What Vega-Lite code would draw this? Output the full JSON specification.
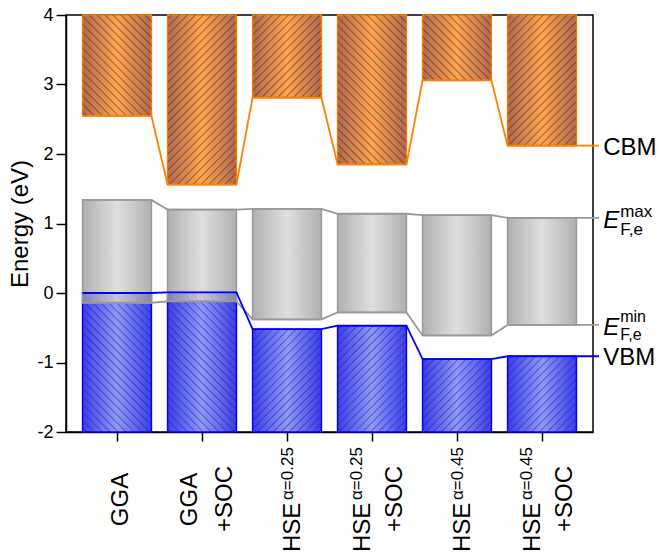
{
  "$schema": "https://vega.github.io/schema/vega-lite/v6.json",
  "width": 527,
  "height": 417,
  "autosize": "none",
  "padding": {"left": 66, "top": 15, "right": 65, "bottom": 124},
  "background": "white",
  "config": {"view": {"stroke": "black", "strokeWidth": 1.5}, "font": "Liberation Sans"},
  "params": [
    {"name": "hatch", "value": [
      {"offset": 0.0106, "color": "rgba(50,35,35,0)"}, {"offset": 0.0156, "color": "rgba(50,35,35,0.5)"}, {"offset": 0.0206, "color": "rgba(50,35,35,0)"},
      {"offset": 0.0419, "color": "rgba(50,35,35,0)"}, {"offset": 0.0469, "color": "rgba(50,35,35,0.5)"}, {"offset": 0.0519, "color": "rgba(50,35,35,0)"},
      {"offset": 0.0731, "color": "rgba(50,35,35,0)"}, {"offset": 0.0781, "color": "rgba(50,35,35,0.5)"}, {"offset": 0.0831, "color": "rgba(50,35,35,0)"},
      {"offset": 0.1044, "color": "rgba(50,35,35,0)"}, {"offset": 0.1094, "color": "rgba(50,35,35,0.5)"}, {"offset": 0.1144, "color": "rgba(50,35,35,0)"},
      {"offset": 0.1356, "color": "rgba(50,35,35,0)"}, {"offset": 0.1406, "color": "rgba(50,35,35,0.5)"}, {"offset": 0.1456, "color": "rgba(50,35,35,0)"},
      {"offset": 0.1669, "color": "rgba(50,35,35,0)"}, {"offset": 0.1719, "color": "rgba(50,35,35,0.5)"}, {"offset": 0.1769, "color": "rgba(50,35,35,0)"},
      {"offset": 0.1981, "color": "rgba(50,35,35,0)"}, {"offset": 0.2031, "color": "rgba(50,35,35,0.5)"}, {"offset": 0.2081, "color": "rgba(50,35,35,0)"},
      {"offset": 0.2294, "color": "rgba(50,35,35,0)"}, {"offset": 0.2344, "color": "rgba(50,35,35,0.5)"}, {"offset": 0.2394, "color": "rgba(50,35,35,0)"},
      {"offset": 0.2606, "color": "rgba(50,35,35,0)"}, {"offset": 0.2656, "color": "rgba(50,35,35,0.5)"}, {"offset": 0.2706, "color": "rgba(50,35,35,0)"},
      {"offset": 0.2919, "color": "rgba(50,35,35,0)"}, {"offset": 0.2969, "color": "rgba(50,35,35,0.5)"}, {"offset": 0.3019, "color": "rgba(50,35,35,0)"},
      {"offset": 0.3231, "color": "rgba(50,35,35,0)"}, {"offset": 0.3281, "color": "rgba(50,35,35,0.5)"}, {"offset": 0.3331, "color": "rgba(50,35,35,0)"},
      {"offset": 0.3544, "color": "rgba(50,35,35,0)"}, {"offset": 0.3594, "color": "rgba(50,35,35,0.5)"}, {"offset": 0.3644, "color": "rgba(50,35,35,0)"},
      {"offset": 0.3856, "color": "rgba(50,35,35,0)"}, {"offset": 0.3906, "color": "rgba(50,35,35,0.5)"}, {"offset": 0.3956, "color": "rgba(50,35,35,0)"},
      {"offset": 0.4169, "color": "rgba(50,35,35,0)"}, {"offset": 0.4219, "color": "rgba(50,35,35,0.5)"}, {"offset": 0.4269, "color": "rgba(50,35,35,0)"},
      {"offset": 0.4481, "color": "rgba(50,35,35,0)"}, {"offset": 0.4531, "color": "rgba(50,35,35,0.5)"}, {"offset": 0.4581, "color": "rgba(50,35,35,0)"},
      {"offset": 0.4794, "color": "rgba(50,35,35,0)"}, {"offset": 0.4844, "color": "rgba(50,35,35,0.5)"}, {"offset": 0.4894, "color": "rgba(50,35,35,0)"},
      {"offset": 0.5106, "color": "rgba(50,35,35,0)"}, {"offset": 0.5156, "color": "rgba(50,35,35,0.5)"}, {"offset": 0.5206, "color": "rgba(50,35,35,0)"},
      {"offset": 0.5419, "color": "rgba(50,35,35,0)"}, {"offset": 0.5469, "color": "rgba(50,35,35,0.5)"}, {"offset": 0.5519, "color": "rgba(50,35,35,0)"},
      {"offset": 0.5731, "color": "rgba(50,35,35,0)"}, {"offset": 0.5781, "color": "rgba(50,35,35,0.5)"}, {"offset": 0.5831, "color": "rgba(50,35,35,0)"},
      {"offset": 0.6044, "color": "rgba(50,35,35,0)"}, {"offset": 0.6094, "color": "rgba(50,35,35,0.5)"}, {"offset": 0.6144, "color": "rgba(50,35,35,0)"},
      {"offset": 0.6356, "color": "rgba(50,35,35,0)"}, {"offset": 0.6406, "color": "rgba(50,35,35,0.5)"}, {"offset": 0.6456, "color": "rgba(50,35,35,0)"},
      {"offset": 0.6669, "color": "rgba(50,35,35,0)"}, {"offset": 0.6719, "color": "rgba(50,35,35,0.5)"}, {"offset": 0.6769, "color": "rgba(50,35,35,0)"},
      {"offset": 0.6981, "color": "rgba(50,35,35,0)"}, {"offset": 0.7031, "color": "rgba(50,35,35,0.5)"}, {"offset": 0.7081, "color": "rgba(50,35,35,0)"},
      {"offset": 0.7294, "color": "rgba(50,35,35,0)"}, {"offset": 0.7344, "color": "rgba(50,35,35,0.5)"}, {"offset": 0.7394, "color": "rgba(50,35,35,0)"},
      {"offset": 0.7606, "color": "rgba(50,35,35,0)"}, {"offset": 0.7656, "color": "rgba(50,35,35,0.5)"}, {"offset": 0.7706, "color": "rgba(50,35,35,0)"},
      {"offset": 0.7919, "color": "rgba(50,35,35,0)"}, {"offset": 0.7969, "color": "rgba(50,35,35,0.5)"}, {"offset": 0.8019, "color": "rgba(50,35,35,0)"},
      {"offset": 0.8231, "color": "rgba(50,35,35,0)"}, {"offset": 0.8281, "color": "rgba(50,35,35,0.5)"}, {"offset": 0.8331, "color": "rgba(50,35,35,0)"},
      {"offset": 0.8544, "color": "rgba(50,35,35,0)"}, {"offset": 0.8594, "color": "rgba(50,35,35,0.5)"}, {"offset": 0.8644, "color": "rgba(50,35,35,0)"},
      {"offset": 0.8856, "color": "rgba(50,35,35,0)"}, {"offset": 0.8906, "color": "rgba(50,35,35,0.5)"}, {"offset": 0.8956, "color": "rgba(50,35,35,0)"},
      {"offset": 0.9169, "color": "rgba(50,35,35,0)"}, {"offset": 0.9219, "color": "rgba(50,35,35,0.5)"}, {"offset": 0.9269, "color": "rgba(50,35,35,0)"},
      {"offset": 0.9481, "color": "rgba(50,35,35,0)"}, {"offset": 0.9531, "color": "rgba(50,35,35,0.5)"}, {"offset": 0.9581, "color": "rgba(50,35,35,0)"},
      {"offset": 0.9794, "color": "rgba(50,35,35,0)"}, {"offset": 0.9844, "color": "rgba(50,35,35,0.5)"}, {"offset": 0.9894, "color": "rgba(50,35,35,0)"}
    ]}
  ],
  "data": {"values": [
    {"method": "GGA", "pos": 1, "base": "GGA", "sup": "", "soc": "", "CBM": 2.55, "Emax": 1.34, "Emin": -0.14, "VBM": 0.0},
    {"method": "GGA+SOC", "pos": 2, "base": "GGA", "sup": "", "soc": "+SOC", "CBM": 1.56, "Emax": 1.20, "Emin": -0.12, "VBM": 0.01},
    {"method": "HSE a=0.25", "pos": 3, "base": "HSE", "sup": "α=0.25", "soc": "", "CBM": 2.81, "Emax": 1.21, "Emin": -0.38, "VBM": -0.52},
    {"method": "HSE a=0.25+SOC", "pos": 4, "base": "HSE", "sup": "α=0.25", "soc": "+SOC", "CBM": 1.85, "Emax": 1.14, "Emin": -0.28, "VBM": -0.47},
    {"method": "HSE a=0.45", "pos": 5, "base": "HSE", "sup": "α=0.45", "soc": "", "CBM": 3.06, "Emax": 1.12, "Emin": -0.61, "VBM": -0.95},
    {"method": "HSE a=0.45+SOC", "pos": 6, "base": "HSE", "sup": "α=0.45", "soc": "+SOC", "CBM": 2.12, "Emax": 1.08, "Emin": -0.46, "VBM": -0.91}
  ]},
  "transform": [
    {"calculate": "datum.pos - 0.405", "as": "xl"},
    {"calculate": "datum.pos + 0.405", "as": "xr"}
  ],
  "layer": [
    {
      "mark": {"type": "rect", "stroke": "#0000ff", "strokeWidth": 1.5,
        "fill": {"gradient": "linear", "x1": 0, "y1": 0, "x2": 1, "y2": 0,
          "stops": [{"offset": 0, "color": "#3c3cf2"}, {"offset": 0.5, "color": "#8c98ff"}, {"offset": 1, "color": "#3c3cf2"}]}},
      "encoding": {
        "x": {"field": "xl", "type": "quantitative", "scale": {"domain": [0.4, 6.6], "nice": false, "zero": false},
          "axis": {"values": [1, 2, 3, 4, 5, 6], "labels": false, "title": null, "tickSize": 9, "tickWidth": 1.5, "tickColor": "black", "domainColor": "black", "domainWidth": 1.5, "grid": false}},
        "x2": {"field": "xr"},
        "y": {"field": "VBM", "type": "quantitative", "scale": {"domain": [-2, 4], "nice": false, "zero": false},
          "axis": {"values": [-2, -1.5, -1, -0.5, 0, 0.5, 1, 1.5, 2, 2.5, 3, 3.5, 4],
            "labelExpr": "datum.value % 1 === 0 ? '' + datum.value : ''",
            "labelOverlap": false,
            "tickSize": {"condition": {"test": "datum.value % 1 !== 0", "value": 4}, "value": 10},
            "labelFontSize": 18, "labelColor": "black", "labelPadding": 3, "labelFont": "Liberation Sans",
            "title": "Energy (eV)", "titleFontSize": 24, "titleFontWeight": "normal", "titleColor": "black", "titleFont": "Liberation Sans", "titlePadding": 4,
            "grid": false, "domainColor": "black", "domainWidth": 1.5, "tickColor": "black", "tickWidth": 1.5}},
        "y2": {"datum": -2}
      }
    },
    {
      "mark": {"type": "rect", "strokeWidth": 0,
        "fill": {"expr": "datum.pos <= 2 ? {gradient: 'linear', x1: 0, y1: 1, x2: 17526.4/(4740.3 + pow(scale('y', -2) - scale('y', datum.VBM), 2)), y2: 1 - 254.56*(scale('y', -2) - scale('y', datum.VBM))/(4740.3 + pow(scale('y', -2) - scale('y', datum.VBM), 2)), stops: hatch} : {gradient: 'linear', x1: 0, y1: 0, x2: 17526.4/(4740.3 + pow(scale('y', -2) - scale('y', datum.VBM), 2)), y2: 254.56*(scale('y', -2) - scale('y', datum.VBM))/(4740.3 + pow(scale('y', -2) - scale('y', datum.VBM), 2)), stops: hatch}"}},
      "encoding": {
        "x": {"field": "xl", "type": "quantitative"},
        "x2": {"field": "xr"},
        "y": {"field": "VBM", "type": "quantitative"},
        "y2": {"datum": -2}
      }
    },
    {
      "mark": {"type": "rect", "stroke": "#999999", "strokeWidth": 1.5, "fillOpacity": 0.78,
        "fill": {"gradient": "linear", "x1": 0, "y1": 0, "x2": 1, "y2": 0,
          "stops": [{"offset": 0, "color": "#9a9a9a"}, {"offset": 0.5, "color": "#d6d6d6"}, {"offset": 1, "color": "#9a9a9a"}]}},
      "encoding": {
        "x": {"field": "xl", "type": "quantitative"},
        "x2": {"field": "xr"},
        "y": {"field": "Emin", "type": "quantitative"},
        "y2": {"field": "Emax"}
      }
    },
    {
      "mark": {"type": "rect", "stroke": "#ff8000", "strokeWidth": 1.5,
        "fill": {"gradient": "linear", "x1": 0, "y1": 0, "x2": 1, "y2": 0,
          "stops": [{"offset": 0, "color": "#b0674f"}, {"offset": 0.5, "color": "#ffa54c"}, {"offset": 1, "color": "#b0674f"}]}},
      "encoding": {
        "x": {"field": "xl", "type": "quantitative"},
        "x2": {"field": "xr"},
        "y": {"field": "CBM", "type": "quantitative"},
        "y2": {"datum": 4}
      }
    },
    {
      "mark": {"type": "rect", "strokeWidth": 0,
        "fill": {"expr": "(datum.pos == 2 || datum.pos == 3 || datum.pos == 6) ? {gradient: 'linear', x1: 0, y1: 0, x2: 17526.4/(4740.3 + pow(scale('y', datum.CBM) - scale('y', 4), 2)), y2: 254.56*(scale('y', datum.CBM) - scale('y', 4))/(4740.3 + pow(scale('y', datum.CBM) - scale('y', 4), 2)), stops: hatch} : {gradient: 'linear', x1: 0, y1: 1, x2: 17526.4/(4740.3 + pow(scale('y', datum.CBM) - scale('y', 4), 2)), y2: 1 - 254.56*(scale('y', datum.CBM) - scale('y', 4))/(4740.3 + pow(scale('y', datum.CBM) - scale('y', 4), 2)), stops: hatch}"}},
      "encoding": {
        "x": {"field": "xl", "type": "quantitative"},
        "x2": {"field": "xr"},
        "y": {"field": "CBM", "type": "quantitative"},
        "y2": {"datum": 4}
      }
    },
    {
      "transform": [
        {"fold": ["CBM", "Emax", "Emin", "VBM"], "as": ["key", "value"]},
        {"calculate": "datum.pos == 6 ? [datum.xl, datum.xr, 6.67] : [datum.xl, datum.xr]", "as": "xs"},
        {"flatten": ["xs"]}
      ],
      "mark": {"type": "line", "strokeWidth": 1.8},
      "encoding": {
        "x": {"field": "xs", "type": "quantitative"},
        "y": {"field": "value", "type": "quantitative"},
        "color": {"field": "key", "type": "nominal", "legend": null,
          "scale": {"domain": ["CBM", "Emax", "Emin", "VBM"], "range": ["#ff8000", "#999999", "#999999", "#0000ff"]}},
        "order": {"field": "xs", "type": "quantitative"}
      }
    },
    {
      "transform": [{"filter": "datum.pos == 1"}],
      "mark": {"type": "text", "angle": 270, "align": "center", "baseline": "alphabetic", "dx": -67.5, "dy": 11, "fontSize": 24, "font": "Liberation Sans", "color": "black"},
      "encoding": {"x": {"field": "pos", "type": "quantitative"}, "y": {"datum": -2}, "text": {"field": "base"}}
    },
    {
      "transform": [{"filter": "datum.pos == 2"}],
      "mark": {"type": "text", "angle": 270, "align": "center", "baseline": "alphabetic", "dx": -67.5, "dy": -5, "fontSize": 24, "font": "Liberation Sans", "color": "black"},
      "encoding": {"x": {"field": "pos", "type": "quantitative"}, "y": {"datum": -2}, "text": {"field": "base"}}
    },
    {
      "transform": [{"filter": "datum.soc != ''"}],
      "mark": {"type": "text", "angle": 270, "align": "center", "baseline": "alphabetic", "dx": -67, "dy": 29.5, "fontSize": 24, "font": "Liberation Sans", "color": "black"},
      "encoding": {"x": {"field": "pos", "type": "quantitative"}, "y": {"datum": -2}, "text": {"field": "soc"}}
    },
    {
      "transform": [{"filter": "datum.pos == 3 || datum.pos == 5"}],
      "mark": {"type": "text", "angle": 270, "align": "left", "baseline": "alphabetic", "dx": -120, "dy": 13, "fontSize": 24, "font": "Liberation Sans", "color": "black"},
      "encoding": {"x": {"field": "pos", "type": "quantitative"}, "y": {"datum": -2}, "text": {"field": "base"}}
    },
    {
      "transform": [{"filter": "datum.pos == 3 || datum.pos == 5"}],
      "mark": {"type": "text", "angle": 270, "align": "left", "baseline": "alphabetic", "dx": -68, "dy": 5.5, "fontSize": 17, "font": "Liberation Sans", "color": "black"},
      "encoding": {"x": {"field": "pos", "type": "quantitative"}, "y": {"datum": -2}, "text": {"field": "sup"}}
    },
    {
      "transform": [{"filter": "datum.pos == 4 || datum.pos == 6"}],
      "mark": {"type": "text", "angle": 270, "align": "left", "baseline": "alphabetic", "dx": -120, "dy": -2.5, "fontSize": 24, "font": "Liberation Sans", "color": "black"},
      "encoding": {"x": {"field": "pos", "type": "quantitative"}, "y": {"datum": -2}, "text": {"field": "base"}}
    },
    {
      "transform": [{"filter": "datum.pos == 4 || datum.pos == 6"}],
      "mark": {"type": "text", "angle": 270, "align": "left", "baseline": "alphabetic", "dx": -68, "dy": -10, "fontSize": 17, "font": "Liberation Sans", "color": "black"},
      "encoding": {"x": {"field": "pos", "type": "quantitative"}, "y": {"datum": -2}, "text": {"field": "sup"}}
    },
    {
      "transform": [{"filter": "datum.pos == 6"}],
      "mark": {"type": "text", "text": "CBM", "align": "left", "baseline": "alphabetic", "dy": 9, "fontSize": 24, "font": "Liberation Sans", "color": "black"},
      "encoding": {"x": {"datum": 6.72}, "y": {"field": "CBM", "type": "quantitative"}}
    },
    {
      "transform": [{"filter": "datum.pos == 6"}],
      "mark": {"type": "text", "text": "VBM", "align": "left", "baseline": "alphabetic", "dy": 9, "fontSize": 24, "font": "Liberation Sans", "color": "black"},
      "encoding": {"x": {"datum": 6.72}, "y": {"field": "VBM", "type": "quantitative"}}
    },
    {
      "transform": [{"filter": "datum.pos == 6"}, {"fold": ["Emax", "Emin"], "as": ["key", "value"]}],
      "mark": {"type": "text", "text": "E", "fontStyle": "italic", "align": "left", "baseline": "alphabetic", "dy": 10.5, "fontSize": 24, "font": "Liberation Sans", "color": "black"},
      "encoding": {"x": {"datum": 6.72}, "y": {"field": "value", "type": "quantitative"}}
    },
    {
      "transform": [{"filter": "datum.pos == 6"}],
      "mark": {"type": "text", "text": "F,e", "align": "left", "baseline": "alphabetic", "dx": 17, "dy": 17, "fontSize": 17, "font": "Liberation Sans", "color": "black"},
      "encoding": {"x": {"datum": 6.72}, "y": {"field": "Emax", "type": "quantitative"}}
    },
    {
      "transform": [{"filter": "datum.pos == 6"}],
      "mark": {"type": "text", "text": "F,e", "align": "left", "baseline": "alphabetic", "dx": 17, "dy": 15, "fontSize": 16, "font": "Liberation Sans", "color": "black"},
      "encoding": {"x": {"datum": 6.72}, "y": {"field": "Emin", "type": "quantitative"}}
    },
    {
      "transform": [{"filter": "datum.pos == 6"}],
      "mark": {"type": "text", "text": "max", "align": "left", "baseline": "alphabetic", "dx": 17, "dy": -1, "fontSize": 17, "font": "Liberation Sans", "color": "black"},
      "encoding": {"x": {"datum": 6.72}, "y": {"field": "Emax", "type": "quantitative"}}
    },
    {
      "transform": [{"filter": "datum.pos == 6"}],
      "mark": {"type": "text", "text": "min", "align": "left", "baseline": "alphabetic", "dx": 17, "dy": -3, "fontSize": 16, "font": "Liberation Sans", "color": "black"},
      "encoding": {"x": {"datum": 6.72}, "y": {"field": "Emin", "type": "quantitative"}}
    }
  ]
}
